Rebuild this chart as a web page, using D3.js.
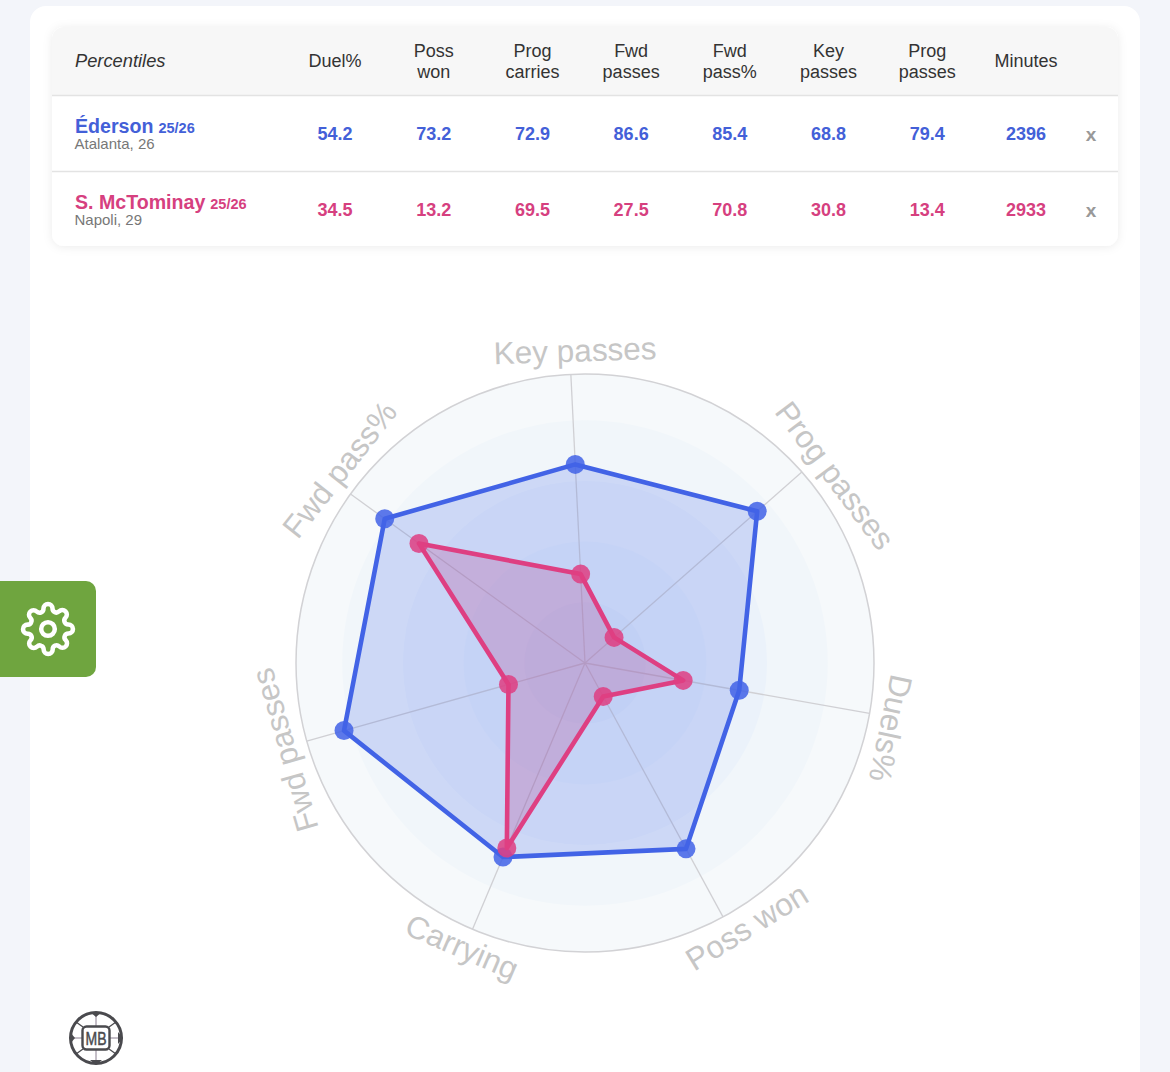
<!DOCTYPE html>
<html>
<head>
<meta charset="utf-8">
<script src="https://d3js.org/d3.v7.min.js"></script>
<style>
  html, body { margin: 0; padding: 0; background: #f3f5fa; overflow: hidden; }
  svg { display: block; font-family: "Liberation Sans", Arial, sans-serif; }
</style>
</head>
<body>
<div id="chart"></div>
<script>
// table columns
const columns = [['Duel%'], ['Poss', 'won'], ['Prog', 'carries'], ['Fwd', 'passes'], ['Fwd', 'pass%'], ['Key', 'passes'], ['Prog', 'passes'], ['Minutes']]
const edersonRow = ['54.2', '73.2', '72.9', '86.6', '85.4', '68.8', '79.4', '2396']
const mctominayRow = ['34.5', '13.2', '69.5', '27.5', '70.8', '30.8', '13.4', '2933']

// radar axes, clockwise from the top
const axes = ['Key passes', 'Prog passes', 'Duels%', 'Poss won', 'Carrying', 'Fwd passes', 'Fwd pass%']
const edersonValues = [68.8, 79.4, 54.2, 73.2, 72.9, 86.6, 85.4]
const mctominayValues = [30.8, 13.4, 34.5, 13.2, 69.5, 27.5, 70.8]
const bands = [100, 84, 63, 42, 21]

const blue = '#4263e6'
const pink = '#de3f82'

const svg = d3.select('#chart').append('svg')
  .attr('width', 1170)
  .attr('height', 1072)

const defs = svg.append('defs')
const shadow = defs.append('filter').attr('id', 'soft')
  .attr('x', '-5%').attr('y', '-10%').attr('width', '110%').attr('height', '120%')
shadow.append('feDropShadow')
  .attr('dx', 0).attr('dy', 1).attr('stdDeviation', 5)
  .attr('flood-color', '#000').attr('flood-opacity', 0.08)

// page card
svg.append('rect')
  .attr('x', 30).attr('y', 6).attr('width', 1110).attr('height', 1100)
  .attr('rx', 16).attr('fill', '#fff')

// table
const table = svg.append('g')
const left = 52, right = 1118

table.append('rect')
  .attr('x', left).attr('y', 27).attr('width', right - left).attr('height', 219)
  .attr('rx', 12).attr('fill', '#fff').attr('filter', 'url(#soft)')

table.append('path')
  .attr('d', `M${left},95 V39 a12,12 0 0 1 12,-12 H${right - 12} a12,12 0 0 1 12,12 V95 Z`)
  .attr('fill', '#f7f7f7')

table.selectAll('line.row')
  .data([95.5, 171.5])
  .enter()
  .append('line')
    .attr('class', 'row')
    .attr('x1', left).attr('x2', right)
    .attr('y1', d => d).attr('y2', d => d)
    .attr('stroke', '#e3e3e3').attr('stroke-width', 1.5)

const colX = d3.scalePoint()
  .domain(d3.range(columns.length))
  .range([335, 1026])

table.append('text')
  .attr('x', 75).attr('y', 67)
  .attr('font-size', 18.3).attr('font-style', 'italic').attr('fill', '#333')
  .text('Percentiles')

columns.forEach((lines, i) => {
  lines.forEach((line, j) => {
    table.append('text')
      .attr('x', colX(i))
      .attr('y', lines.length === 1 ? 67 : 57 + j * 21)
      .attr('text-anchor', 'middle')
      .attr('font-size', 18).attr('fill', '#333')
      .text(line)
  })
})

function renderRow({ name, season, club, values, color, y }) {
  const label = table.append('text')
    .attr('x', 75).attr('y', y)
    .attr('fill', color).attr('font-weight', 'bold')
  label.append('tspan').attr('font-size', 19.6).text(name)
  label.append('tspan').attr('font-size', 14.5).attr('dx', 5).text(season)

  table.append('text')
    .attr('x', 74.5).attr('y', y + 16)
    .attr('font-size', 15).attr('fill', '#777')
    .text(club)

  table.selectAll(null)
    .data(values)
    .enter()
    .append('text')
      .attr('x', (d, i) => colX(i))
      .attr('y', y + 6.5)
      .attr('text-anchor', 'middle')
      .attr('font-size', 18).attr('font-weight', 'bold').attr('fill', color)
      .text(d => d)

  table.append('text')
    .attr('x', 1091).attr('y', y + 8)
    .attr('text-anchor', 'middle')
    .attr('font-size', 19).attr('font-weight', 'bold').attr('fill', '#999')
    .text('x')
}

renderRow({ name: 'Éderson', season: '25/26', club: 'Atalanta, 26', values: edersonRow, color: '#4360d8', y: 133 })
renderRow({ name: 'S. McTominay', season: '25/26', club: 'Napoli, 29', values: mctominayRow, color: '#d6407f', y: 209 })

// radar
const cx = 585, cy = 663
const radar = svg.append('g').attr('transform', `translate(${cx}, ${cy})`)

const r = d3.scaleLinear().domain([0, 100]).range([0, 289])
const angle = d3.scaleLinear()
  .domain([0, axes.length])
  .range([-0.049, 2 * Math.PI - 0.049])

radar.selectAll('circle.band')
  .data(bands)
  .enter()
  .append('circle')
    .attr('class', 'band')
    .attr('r', d => r(d))
    .attr('fill', (d, i) => ['#f6f9fb', '#f1f6fa', '#ebf2fa', '#e7effa', '#e2ebf9'][i])

radar.append('circle')
  .attr('r', r(100))
  .attr('fill', 'none')
  .attr('stroke', '#d2d2d5').attr('stroke-width', 1.5)

radar.selectAll('line.spoke')
  .data(axes)
  .enter()
  .append('line')
    .attr('class', 'spoke')
    .attr('x2', (d, i) => r(100) * Math.sin(angle(i)))
    .attr('y2', (d, i) => -r(100) * Math.cos(angle(i)))
    .attr('stroke', '#d0d0d4').attr('stroke-width', 1.3)

const shape = d3.lineRadial()
  .angle((d, i) => angle(i))
  .radius(d => r(d))
  .curve(d3.curveLinearClosed)

function renderPlayer(values, color, fill, fillOpacity) {
  radar.append('path')
    .attr('d', shape(values))
    .attr('fill', fill).attr('fill-opacity', fillOpacity)
    .attr('stroke', 'none')

  radar.append('path')
    .attr('d', shape(values))
    .attr('fill', 'none')
    .attr('stroke', color).attr('stroke-width', 4.6).attr('stroke-linejoin', 'round')

  radar.selectAll(null)
    .data(values)
    .enter()
    .append('circle')
      .attr('cx', (d, i) => r(d) * Math.sin(angle(i)))
      .attr('cy', (d, i) => -r(d) * Math.cos(angle(i)))
      .attr('r', 9.5)
      .attr('fill', color).attr('fill-opacity', 0.86)
}

renderPlayer(edersonValues, blue, blue, 0.2)
renderPlayer(mctominayValues, pink, '#b8408a', 0.25)

// axis labels: straight text turned to the spoke, the two at the bottom flipped
// labels sit a little off their spokes in the original, degrees per axis
const labelNudge = [1, 4.5, 2, -3, 0.5, -0.5, 2.5]
radar.selectAll('text.axis')
  .data(axes)
  .enter()
  .append('text')
    .attr('class', 'axis')
    .attr('font-size', 31.5).attr('fill', '#c6c6c6')
    .attr('text-anchor', 'middle')
    .attr('dy', '0.3em')
    .attr('transform', (d, i) => {
      const a = angle(i) + labelNudge[i] * Math.PI / 180
      const deg = a * 180 / Math.PI
      const flipped = d === 'Poss won' || d === 'Carrying'
      const x = 311 * Math.sin(a)
      const y = -311 * Math.cos(a)
      return `translate(${x}, ${y}) rotate(${flipped ? deg - 180 : deg})`
    })
    .text(d => d)

// settings tab
svg.append('path')
  .attr('d', 'M0,581 H86 a10,10 0 0 1 10,10 V667 a10,10 0 0 1 -10,10 H0 Z')
  .attr('fill', '#6fa53f')

const gear = svg.append('g')
  .attr('transform', 'translate(48, 629) scale(2.27) translate(-12, -12)')
  .attr('fill', 'none').attr('stroke', '#fff').attr('stroke-width', 2)
  .attr('stroke-linecap', 'round').attr('stroke-linejoin', 'round')
gear.append('circle').attr('cx', 12).attr('cy', 12).attr('r', 3)
gear.append('path')
  .attr('d', 'M19.4 15a1.65 1.65 0 0 0 .33 1.82l.06.06a2 2 0 0 1 0 2.83 2 2 0 0 1-2.83 0l-.06-.06a1.65 1.65 0 0 0-1.82-.33 1.65 1.65 0 0 0-1 1.51V21a2 2 0 0 1-2 2 2 2 0 0 1-2-2v-.09A1.65 1.65 0 0 0 9 19.4a1.65 1.65 0 0 0-1.82.33l-.06.06a2 2 0 0 1-2.83 0 2 2 0 0 1 0-2.83l.06-.06a1.65 1.65 0 0 0 .33-1.82 1.65 1.65 0 0 0-1.51-1H3a2 2 0 0 1-2-2 2 2 0 0 1 2-2h.09A1.65 1.65 0 0 0 4.6 9a1.65 1.65 0 0 0-.33-1.82l-.06-.06a2 2 0 0 1 0-2.83 2 2 0 0 1 2.83 0l.06.06a1.65 1.65 0 0 0 1.82.33H9a1.65 1.65 0 0 0 1-1.51V3a2 2 0 0 1 2-2 2 2 0 0 1 2 2v.09a1.65 1.65 0 0 0 1 1.51 1.65 1.65 0 0 0 1.82-.33l.06-.06a2 2 0 0 1 2.83 0 2 2 0 0 1 0 2.83l-.06.06a1.65 1.65 0 0 0-.33 1.82V9a1.65 1.65 0 0 0 1.51 1H21a2 2 0 0 1 2 2 2 2 0 0 1-2 2h-.09a1.65 1.65 0 0 0-1.51 1z')

// logo
const logo = svg.append('g').attr('transform', 'translate(96, 1038)')
const logoDark = '#4a4a4e'
logo.append('circle').attr('r', 25.5).attr('fill', '#fff').attr('stroke', logoDark).attr('stroke-width', 3)
logo.selectAll(null)
  .data([[-25, 0, -13, 0], [13, 0, 25, 0], [0, -25, 0, -11], [0, 11, 0, 25]])
  .enter()
  .append('line')
    .attr('x1', d => d[0]).attr('y1', d => d[1])
    .attr('x2', d => d[2]).attr('y2', d => d[3])
    .attr('stroke', '#8a7f90').attr('stroke-width', 1)
logo.selectAll(null)
  .data([[-13, -11, -20, -16], [13, -11, 20, -16], [-13, 11, -20, 16], [13, 11, 20, 16]])
  .enter()
  .append('line')
    .attr('x1', d => d[0]).attr('y1', d => d[1])
    .attr('x2', d => d[2]).attr('y2', d => d[3])
    .attr('stroke', logoDark).attr('stroke-width', 1.3)
logo.selectAll(null)
  .data([[-24, 0], [24, 0], [0, -24], [0, 24]])
  .enter()
  .append('path')
    .attr('transform', d => `translate(${d[0]}, ${d[1]}) rotate(${d[0] ? 0 : 90})`)
    .attr('d', 'M-2,-6 L3,0 L-2,6 Z')
    .attr('fill', logoDark)
logo.append('rect')
  .attr('x', -13.5).attr('y', -11.5).attr('width', 27).attr('height', 23).attr('rx', 4)
  .attr('fill', '#fff').attr('stroke', logoDark).attr('stroke-width', 2.4)
logo.append('text')
  .attr('y', 7).attr('text-anchor', 'middle')
  .attr('font-size', 19).attr('fill', logoDark).attr('stroke', logoDark).attr('stroke-width', 0.5)
  .attr('textLength', 21).attr('lengthAdjust', 'spacingAndGlyphs')
  .text('MB')
</script>
</body>
</html>
